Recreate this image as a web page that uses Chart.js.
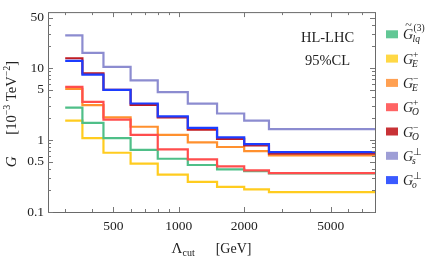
<!DOCTYPE html>
<html><head><meta charset="utf-8">
<script src="https://cdn.jsdelivr.net/npm/chart.js@4.4.1/dist/chart.umd.min.js"></script>
<style>html,body{margin:0;padding:0;background:#fff;}#wrap{width:432px;height:261px;position:relative}</style>
</head><body><div id="wrap"><canvas id="c" width="432" height="261"></canvas></div>
<script>
// ---- data ----
const binEdges = [300, 360, 450, 600, 800, 1100, 1500, 2000, 2600];
const xEnd = 8000;
const gLq3    = [2.82, 1.73, 1.06, 0.73, 0.55, 0.45, 0.39, 0.37, 0.345];
const gEplus  = [1.86, 1.06, 0.666, 0.47, 0.331, 0.262, 0.223, 0.206, 0.189];
const gEminus = [5.13, 3.06, 2.06, 1.53, 1.18, 0.93, 0.80, 0.70, 0.61];
const gOplus  = [5.47, 3.40, 1.92, 1.18, 0.74, 0.54, 0.43, 0.38, 0.348];
const gOminus = [13.7, 8.45, 5.0, 3.09, 2.06, 1.39, 1.04, 0.84, 0.645];
const gSperp  = [28.5, 16.3, 10.4, 6.76, 4.62, 3.2, 2.34, 1.86, 1.42];
const gOperp  = [12.6, 8.09, 4.97, 3.22, 2.13, 1.48, 1.09, 0.875, 0.68];
const xTicks = [300,400,500,600,700,800,900,1000,2000,3000,4000,5000,6000,7000];
const xTickLabels = [500, 1000, 2000, 5000];
const yTicks = [0.1,0.2,0.3,0.4,0.5,0.6,0.7,0.8,0.9,1,2,3,4,5,6,7,8,9,10,20,30,40,50];
const yTickLabels = [0.1, 0.5, 1, 5, 10, 50];

const seriesDefs = [
  {vals: gLq3,    line:'#4fbf88', box:'#62c795', sup:'(3)', sub:'lq', tilde:true, order:5},
  {vals: gEplus,  line:'#ffcc1f', box:'#ffd845', sup:'+', sub:'E', order:6},
  {vals: gEminus, line:'#ff902e', box:'#ffa052', sup:'\u2212', sub:'E', order:4},
  {vals: gOplus,  line:'#ff4d4d', box:'#ff6464', sup:'+', sub:'O', order:3},
  {vals: gOminus, line:'#c01c22', box:'#c83236', sup:'\u2212', sub:'O', order:2},
  {vals: gSperp,  line:'#8c8cd0', box:'#9e9ed6', sup:'\u22a5', sub:'s', order:1},
  {vals: gOperp,  line:'#1c3cff', box:'#3a5aff', sup:'\u22a5', sub:'o', order:0},
];

const FONT = 'Liberation Serif';
Chart.defaults.font.family = FONT;
Chart.defaults.color = '#222';

const datasets = seriesDefs.map(s => ({
  data: binEdges.map((x, i) => ({x, y: s.vals[i]})).concat([{x: xEnd, y: s.vals[s.vals.length-1]}]),
  borderColor: s.line,
  borderWidth: 2.2,
  pointRadius: 0,
  stepped: true,
  fill: false,
  order: s.order,
}));

function drawParts(ctx, parts, x, y) {
  let cx = x;
  for (const p of parts) {
    ctx.font = p.font;
    ctx.fillText(p.t, cx, y + (p.dy || 0));
    cx += ctx.measureText(p.t).width;
  }
  return cx - x;
}
function measureParts(ctx, parts) {
  let w = 0;
  for (const p of parts) { ctx.font = p.font; w += ctx.measureText(p.t).width; }
  return w;
}

const decor = {
  id: 'decor',
  afterDraw(chart) {
    const ctx = chart.ctx;
    const a = chart.chartArea;
    const xs = chart.scales.x, ys = chart.scales.y;
    ctx.save();
    ctx.strokeStyle = '#6a6a6a';
    ctx.lineWidth = 1;
    ctx.strokeRect(a.left + 0.5, a.top + 0.5, a.right - a.left, a.bottom - a.top);
    ctx.strokeStyle = '#777';
    ctx.beginPath();
    for (const v of xTicks) {
      const px = Math.round(xs.getPixelForValue(v)) + 0.5;
      const len = xTickLabels.includes(v) ? 5 : 3;
      ctx.moveTo(px, a.bottom); ctx.lineTo(px, a.bottom - len);
      ctx.moveTo(px, a.top); ctx.lineTo(px, a.top + len);
    }
    for (const v of yTicks) {
      const py = Math.round(ys.getPixelForValue(v)) + 0.5;
      const len = yTickLabels.includes(v) ? 5 : 3;
      ctx.moveTo(a.left, py); ctx.lineTo(a.left + len, py);
      ctx.moveTo(a.right, py); ctx.lineTo(a.right - len, py);
    }
    ctx.stroke();

    ctx.fillStyle = '#222';
    ctx.textBaseline = 'alphabetic';
    ctx.textAlign = 'center';
    ctx.font = '14.5px ' + FONT;
    ctx.fillText('HL-LHC', 327.5, 41.5);
    ctx.fillText('95%CL', 327.5, 65);
    ctx.textAlign = 'left';

    const xParts = [
      {t:'\u039b', font:'15px ' + FONT},
      {t:'cut', font:'10px ' + FONT, dy:3},
      {t:'\u2003\u2002[GeV]', font:'14px ' + FONT},
    ];
    const xw = measureParts(ctx, xParts);
    drawParts(ctx, xParts, (a.left + a.right) / 2 - xw / 2, 253);

    const yParts = [
      {t:'G', font:'italic 15px ' + FONT},
      {t:'\u2003\u2002[10', font:'14.5px ' + FONT},
      {t:'\u22123', font:'10px ' + FONT, dy:-6},
      {t:' TeV', font:'14.5px ' + FONT},
      {t:'\u22122', font:'10px ' + FONT, dy:-6},
      {t:']', font:'14.5px ' + FONT},
    ];
    const yw = measureParts(ctx, yParts);
    ctx.save();
    ctx.translate(16, (a.top + a.bottom) / 2 + 2);
    ctx.rotate(-Math.PI / 2);
    drawParts(ctx, yParts, -yw / 2, 0);
    ctx.restore();

    const lx = 386, ly0 = 34.3, dy = 24.3;
    seriesDefs.forEach((s, i) => {
      const cy = ly0 + i * dy;
      ctx.fillStyle = s.box;
      ctx.fillRect(lx, cy - 4, 12, 8);
      ctx.fillStyle = '#222';
      const tx = 403, base = cy + 5;
      ctx.font = 'italic 14px ' + FONT;
      ctx.fillText('G', tx, base);
      const gw = ctx.measureText('G').width;
      let supDy = -6;
      if (s.tilde) {
        ctx.font = '12px ' + FONT;
        ctx.textAlign = 'center';
        ctx.fillText('~', tx + gw / 2 + 0.5, base - 10);
        ctx.textAlign = 'left';
        supDy = -8;
      }
      const sx = tx + gw + (s.tilde ? 0.5 : 0);
      ctx.font = '9.5px ' + FONT;
      ctx.fillText(s.sup, sx, base + supDy);
      ctx.font = 'italic 9.5px ' + FONT;
      ctx.fillText(s.sub, sx - 1, base + 3);
    });
    ctx.restore();
  }
};

new Chart(document.getElementById('c'), {
  type: 'line',
  data: { datasets },
  options: {
    responsive: false,
    animation: false,
    layout: { padding: { top: 11, right: 57, left: 0, bottom: 0 } },
    plugins: { legend: { display: false }, tooltip: { enabled: false } },
    scales: {
      x: {
        type: 'logarithmic', min: 250, max: 8000,
        afterBuildTicks: s => { s.ticks = xTicks.map(v => ({value: v})); },
        afterFit: s => { s.height = 49; },
        grid: { display: false, drawTicks: false },
        border: { display: false },
        ticks: {
          autoSkip: false, maxRotation: 0, padding: 6,
          font: { size: 13.5, family: FONT }, color: '#222',
          callback: v => xTickLabels.includes(v) ? String(v) : ''
        }
      },
      y: {
        type: 'logarithmic', min: 0.1, max: 60,
        afterBuildTicks: s => { s.ticks = yTicks.map(v => ({value: v})); },
        afterFit: s => { s.width = 48; },
        grid: { display: false, drawTicks: false },
        border: { display: false },
        ticks: {
          autoSkip: false, padding: 4,
          font: { size: 13.5, family: FONT }, color: '#222',
          callback: v => yTickLabels.includes(v) ? String(v) : ''
        }
      }
    }
  },
  plugins: [decor]
});
</script>
</body></html>
